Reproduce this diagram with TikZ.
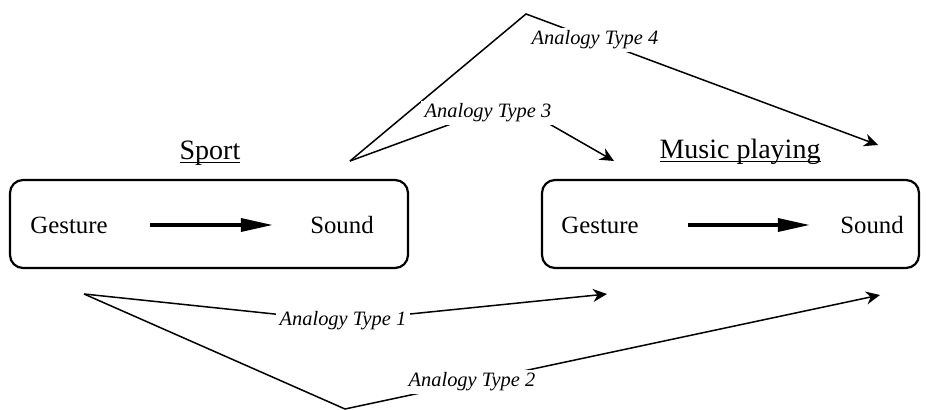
\documentclass[tikz,border=0pt]{standalone}
\usepackage{fontspec}
\setmainfont{Liberation Serif}
\usepackage{tikz}
\usetikzlibrary{positioning, arrows.meta}

\newcommand{\ulword}[1]{\setbox0\hbox{#1}\rlap{\rule[-1.45pt]{\wd0}{0.5pt}}\box0}

\begin{document}
\begin{tikzpicture}[x=0.5pt, y=-0.5pt,
          box/.style={draw, line width=1.1pt, rounded corners=6.5pt, minimum height=44pt},
          word/.style={font=\fontsize{12.4}{14}\selectfont, inner sep=0pt},
          title/.style={font=\fontsize{14}{16}\selectfont, inner sep=0pt, anchor=base},
          lbl/.style={font=\fontsize{10.2}{12}\selectfont\itshape, fill=white, inner xsep=2pt, inner ysep=1.5pt},
          link/.style={line width=0.75pt, -{Stealth[length=7pt, width=6.5pt]}},
          flow/.style={line width=1.7pt, -{Triangle[length=16pt, width=6.5pt]}}]
          \useasboundingbox (0,0) rectangle (930,410);

          \node[box, minimum width=199pt] (sport) at (209,224) {};
          \node[box, minimum width=188.5pt] (music) at (730.5,224) {};
          \node[title] (st) at (210,160) {\ulword{Sport}};
          \node[title] (mt) at (740,159) {\ulword{Music playing}};

          \node[word] (g1) at (69,225) {Gesture};
          \node[word] (s1) at (342,225) {Sound};
          \node[word] (g2) at (600,225) {Gesture};
          \node[word] (s2) at (872,225) {Sound};
          \draw[flow, shorten <=21pt, shorten >=18.5pt] (g1) -- (s1);
          \draw[flow, shorten <=24.5pt, shorten >=15pt] (g2) -- (s2);

          \coordinate (p1) at (84,294);
          \coordinate (p2) at (350,161);
          \coordinate (c1) at (341,321);
          \coordinate (c2) at (345,409);
          \coordinate (c3) at (511,102);
          \coordinate (c4) at (526,14);
          \coordinate (t1) at (607,294);
          \coordinate (t2) at (880,295);
          \coordinate (t3) at (614,161);
          \coordinate (t4) at (878,145);

          \draw[link] (p1) -- (c1) -- (t1);
          \draw[link] (p1) -- (c2) -- (t2);
          \draw[link] (p2) -- (c3) -- (t3);
          \draw[link] (p2) -- (c4) -- (t4);

          \node[lbl] (a1) at (343,321) {Analogy Type 1};
          \node[lbl] (a2) at (472,382) {Analogy Type 2};
          \node[lbl] (a3) at (488,113) {Analogy Type 3};
          \node[lbl] (a4) at (595,40) {Analogy Type 4};
        \end{tikzpicture}
\end{document}
